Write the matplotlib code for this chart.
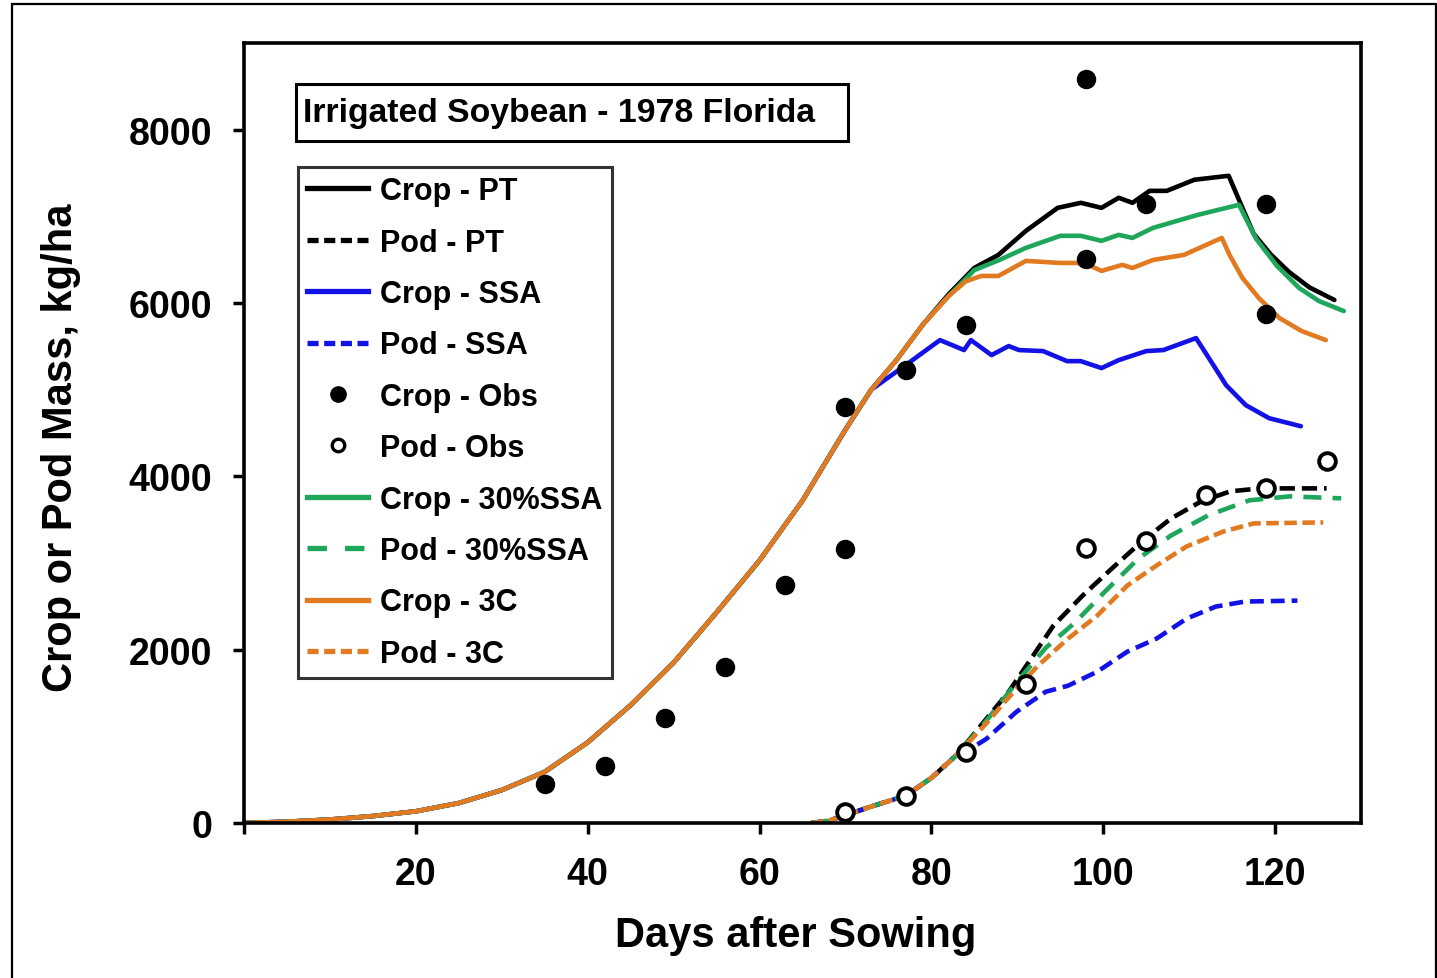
import numpy as np
import matplotlib
matplotlib.use("Agg")
import matplotlib.pyplot as plt
from matplotlib.patches import Rectangle
from matplotlib.lines import Line2D

plt.rcParams['font.family'] = ['Liberation Sans', 'DejaVu Sans']
plt.rcParams['font.weight'] = 'bold'
plt.rcParams['lines.scale_dashes'] = False

# ---- data ----
# shared early crop growth (all simulations coincide)
crop_common_days = [0, 5, 10, 15, 20, 25, 30, 35, 40, 45, 50, 55, 60, 65, 70, 73]
crop_common_vals = [0, 15, 40, 80, 135, 230, 380, 590, 930, 1360, 1850, 2430, 3030, 3720, 4540, 5000]

crop_pt_days = [76, 79, 82, 85, 87.8, 91, 94.7, 97.4, 99.8, 101.8, 103.4, 105.4, 107.4, 110.6,
                114.6, 115.8, 117.5, 119.5, 121.6, 124, 126.9]
crop_pt_vals = [5350, 5750, 6100, 6405, 6555, 6832, 7098, 7156, 7098, 7214, 7156, 7294, 7294, 7422,
                7468, 7190, 6800, 6560, 6360, 6180, 6035]

crop_ssa_days = [77, 81, 83.8, 84.6, 87, 89, 90.2, 93, 95.8, 97.4, 99.8, 101.8, 105, 107, 110.8,
                 112.3, 114.3, 116.6, 119.3, 123]
crop_ssa_vals = [5283, 5572, 5457, 5572, 5399, 5503, 5457, 5445, 5329, 5329, 5249, 5341, 5445, 5457, 5595,
                 5364, 5052, 4821, 4671, 4578]

crop_30ssa_days = [76, 79, 82, 85, 88, 91, 95, 97.4, 99.8, 101.8, 103.4, 105.8, 111, 115.8,
                   117.8, 120.2, 122.8, 125.1, 128]
crop_30ssa_vals = [5350, 5750, 6080, 6380, 6500, 6636, 6775, 6775, 6717, 6786, 6751, 6867, 7017, 7133,
                   6740, 6430, 6173, 6023, 5907]

crop_3c_days = [76, 79, 82, 84, 85.8, 87.8, 91, 95, 97.8, 99.8, 102.2, 103.4, 105.8, 109.4, 113.8,
                114.7, 116.2, 118.1, 120.5, 123.1, 125.9]
crop_3c_vals = [5350, 5750, 6080, 6250, 6312, 6312, 6486, 6462, 6462, 6370, 6440, 6404, 6497, 6555, 6751,
                6555, 6289, 6058, 5827, 5676, 5572]

# shared early pod growth
pod_common_days = [66, 68, 70, 73, 77, 80, 83]
pod_common_vals = [0, 25, 90, 190, 315, 520, 790]

pod_pt_days = [86.4, 89, 91.6, 94.2, 97.6, 101, 104.5, 107.9, 111.4, 114.8, 118.3, 126]
pod_pt_vals = [1202, 1514, 1896, 2277, 2624, 2936, 3249, 3514, 3711, 3827, 3861, 3861]

pod_ssa_days = [84, 86.4, 89.9, 93.3, 95.9, 99.3, 102.8, 106.2, 109.7, 113.1, 116.5, 122.6]
pod_ssa_vals = [820, 971, 1283, 1514, 1584, 1746, 1977, 2127, 2358, 2497, 2555, 2566]

pod_30ssa_days = [86.4, 89.9, 93.3, 96.7, 100.2, 104.1, 107.9, 112.2, 117, 121.7, 127.7]
pod_30ssa_vals = [1180, 1620, 2020, 2312, 2670, 3052, 3318, 3549, 3723, 3769, 3746]

pod_3c_days = [86.4, 89, 92.4, 95.9, 99.3, 102.8, 106.2, 109.7, 114, 117.5, 125.6]
pod_3c_vals = [1150, 1450, 1815, 2127, 2393, 2740, 2971, 3191, 3364, 3457, 3468]

crop_obs_days = [35, 42, 49, 56, 63, 70, 70, 77, 84, 98, 98, 105, 119, 119]
crop_obs_vals = [451, 659, 1214, 1803, 2751, 3156, 4798, 5225, 5746, 8590, 6509, 7145, 7145, 5873]

pod_obs_days = [70, 77, 84, 91, 98, 105, 112, 119, 126]
pod_obs_vals = [127, 312, 820, 1607, 3168, 3249, 3780, 3861, 4173]

x_ticks = [0, 20, 40, 60, 80, 100, 120]
x_tick_labels = ['', '20', '40', '60', '80', '100', '120']
y_ticks = [0, 2000, 4000, 6000, 8000]

# ---- styling ----
C_PT = '#000000'
C_SSA = '#1212e6'
C_30 = '#1ea65a'
C_3C = '#e27a22'
LW = 3.3
DASH_PT = (11, 5)
DASH_SSA = (10, 5)
DASH_30 = (13, 8)
DASH_3C = (9, 4)


def crop_series(days, vals):
    return crop_common_days + days, crop_common_vals + vals


def pod_series(days, vals):
    return pod_common_days + days, pod_common_vals + vals


fig = plt.figure(figsize=(14.37, 9.79), dpi=100)
ax = fig.add_axes([244 / 1437, 1 - 824 / 979, 1117 / 1437, 780 / 979])

# crop lines
for d, v, c in [(crop_pt_days, crop_pt_vals, C_PT),
                (crop_ssa_days, crop_ssa_vals, C_SSA),
                (crop_30ssa_days, crop_30ssa_vals, C_30),
                (crop_3c_days, crop_3c_vals, C_3C)]:
    x, y = crop_series(d, v)
    ax.plot(x, y, color=c, lw=LW, solid_joinstyle='round', solid_capstyle='round')

# pod lines
for d, v, c, ds in [(pod_pt_days, pod_pt_vals, C_PT, DASH_PT),
                    (pod_ssa_days, pod_ssa_vals, C_SSA, DASH_SSA),
                    (pod_30ssa_days, pod_30ssa_vals, C_30, DASH_30),
                    (pod_3c_days, pod_3c_vals, C_3C, DASH_3C)]:
    x, y = pod_series(d, v)
    ax.plot(x, y, color=c, lw=LW, dashes=ds)

# observations
ax.plot(crop_obs_days, crop_obs_vals, 'o', color='black', ms=13, zorder=5)
ax.plot(pod_obs_days, pod_obs_vals, 'o', mfc='white', mec='black', ms=12, mew=2.8, zorder=5)

ax.set_xlim(0, 130)
ax.set_ylim(0, 9000)
ax.set_xticks(x_ticks)
ax.set_xticklabels(x_tick_labels)
ax.set_yticks(y_ticks)
ax.tick_params(direction='out', length=8, width=2.5, labelsize=27, pad=16)
ax.tick_params(axis='y', pad=15)
for sp in ax.spines.values():
    sp.set_linewidth(2.6)

ax.set_xlabel('Days after Sowing', fontsize=30, fontweight='bold')
ax.set_ylabel('Crop or Pod Mass, kg/ha', fontsize=30, fontweight='bold')
ax.xaxis.set_label_coords(0.494, -0.118)
ax.yaxis.set_label_coords(-0.146, 0.483)

# title box
ax.add_patch(Rectangle((0.0466, 0.8744), 0.4941, 0.073, transform=ax.transAxes,
                       fill=False, ec='black', lw=2.2, zorder=6))
ax.text(0.0528, 0.9109, 'Irrigated Soybean - 1978 Florida', transform=ax.transAxes,
        fontsize=24.3, fontweight='bold', ha='left', va='center', zorder=7)

# legend
handles = [
    Line2D([], [], color=C_PT, lw=3.8),
    Line2D([], [], color=C_PT, lw=3.8, dashes=(8, 4)),
    Line2D([], [], color=C_SSA, lw=3.8),
    Line2D([], [], color=C_SSA, lw=3.8, dashes=(8, 4)),
    Line2D([], [], ls='none', marker='o', color='black', ms=11),
    Line2D([], [], ls='none', marker='o', mfc='white', mec='black', ms=9, mew=2.4),
    Line2D([], [], color=C_30, lw=3.8),
    Line2D([], [], color=C_30, lw=3.8, dashes=(14, 13)),
    Line2D([], [], color=C_3C, lw=3.8),
    Line2D([], [], color=C_3C, lw=3.8, dashes=(8, 4)),
]
labels = ['Crop - PT', 'Pod - PT', 'Crop - SSA', 'Pod - SSA', 'Crop - Obs', 'Pod - Obs',
          'Crop - 30%SSA', 'Pod - 30%SSA', 'Crop - 3C', 'Pod - 3C']
leg = ax.legend(handles, labels, loc='upper left', bbox_to_anchor=(0.0483, 0.841),
                borderaxespad=0, frameon=True, fancybox=False,
                handlelength=2.0, handletextpad=0.4, labelspacing=0.7,
                borderpad=0.3, prop={'weight': 'bold', 'size': 22})
leg.get_frame().set_edgecolor('black')
leg.get_frame().set_linewidth(2.2)
leg.set_zorder(8)

# outer frame around the figure
fig.add_artist(Rectangle((12 / 1437, -0.05), (1436 - 12) / 1437, 1.05 - 5 / 979,
                         transform=fig.transFigure, fill=False, ec='black', lw=1.6))

fig.savefig('out.png', dpi=100)
